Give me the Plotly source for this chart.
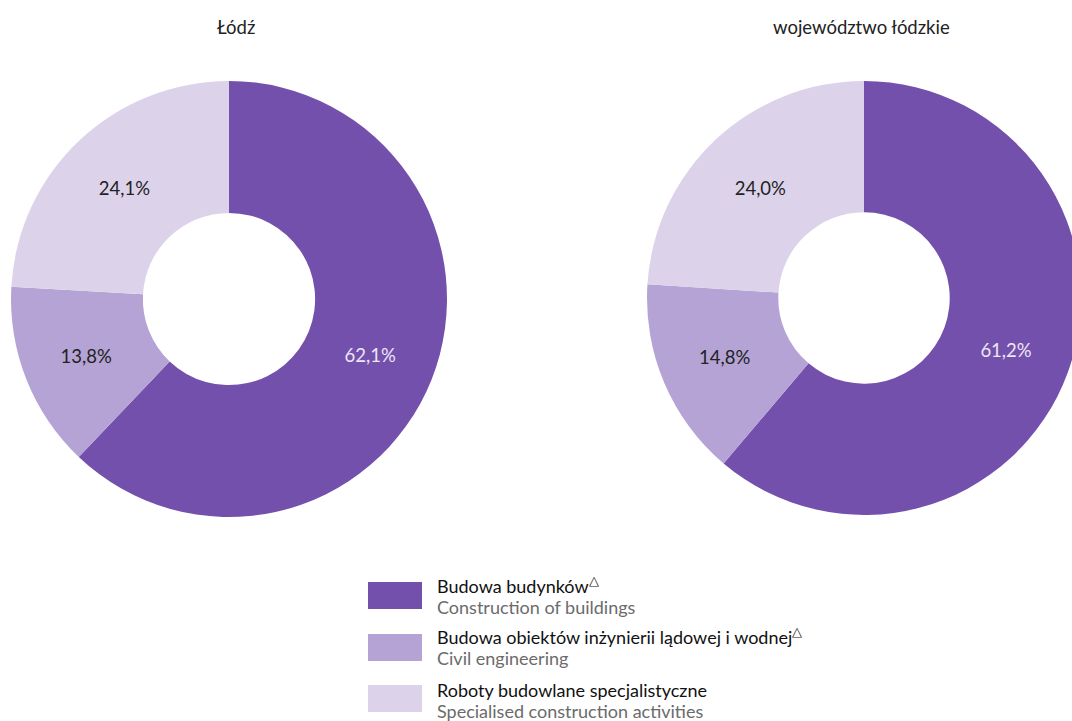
import plotly.graph_objects as go

W, H = 1084, 721

categories_pl = ["Budowa budynków", "Budowa obiektów inżynierii lądowej i wodnej", "Roboty budowlane specjalistyczne"]
categories_en = ["Construction of buildings", "Civil engineering", "Specialised construction activities"]
delta_mark = [True, True, False]
lodz_values = [62.1, 13.8, 24.1]
voiv_values = [61.2, 14.8, 24.0]
titles = ["Łódź", "województwo łódzkie"]

colors = ["#7450AD", "#B5A3D5", "#DCD3EB"]
text_colors = ["#EDE6F5", "#222222", "#222222"]
FONT = "Lato"


def px(x):
    return x / W


def py(y):
    return 1 - y / H


def fmt(v):
    return f"{v:.1f}".replace(".", ",") + "%"


fig = go.Figure()
domains = [
    dict(x=[px(11), px(447)], y=[py(517), py(81)]),
    dict(x=[px(647), px(1081)], y=[py(516), py(80)]),
]
for vals, dom, name in zip([lodz_values, voiv_values], domains, titles):
    fig.add_trace(go.Pie(
        labels=categories_pl,
        values=vals,
        text=[fmt(v) for v in vals],
        textinfo="text",
        textposition="inside",
        insidetextorientation="horizontal",
        insidetextfont=dict(family=FONT, size=18.5, color=text_colors),
        hole=0.395,
        sort=False,
        direction="clockwise",
        rotation=0,
        marker=dict(colors=colors, line=dict(width=0)),
        domain=dom,
        name=name,
        showlegend=False,
        hoverinfo="label+text",
    ))

annotations = []
for t, cx in zip(titles, [236, 861]):
    annotations.append(dict(x=px(cx), y=py(27), xref="paper", yref="paper", text=t,
                            showarrow=False, xanchor="center", yanchor="middle",
                            font=dict(family=FONT, size=18.5, color="#222222")))

shapes = []
box_tops = [582, 634, 685]
line1_y = [585, 636, 690]
line2_y = [607, 658, 711]
for i in range(3):
    shapes.append(dict(type="rect", xref="paper", yref="paper",
                       x0=px(368), x1=px(422), y0=py(box_tops[i] + 27), y1=py(box_tops[i]),
                       fillcolor=colors[i], line=dict(width=0)))
    t1 = categories_pl[i] + ("<sup>△</sup>" if delta_mark[i] else "")
    annotations.append(dict(x=px(435), y=py(line1_y[i]), xref="paper", yref="paper", text=t1,
                            showarrow=False, xanchor="left", yanchor="middle",
                            font=dict(family=FONT, size=18, color="#111111")))
    annotations.append(dict(x=px(435), y=py(line2_y[i]), xref="paper", yref="paper", text=categories_en[i],
                            showarrow=False, xanchor="left", yanchor="middle",
                            font=dict(family=FONT, size=18, color="#6b6b6b")))

fig.update_layout(
    width=W, height=H,
    margin=dict(l=0, r=0, t=0, b=0),
    paper_bgcolor="white", plot_bgcolor="white",
    annotations=annotations, shapes=shapes,
    font=dict(family=FONT),
)

fig.write_html("out.html", config={"displayModeBar": False},
               post_script="document.body.style.margin='0';document.body.style.overflow='hidden';"
                           "document.documentElement.style.overflow='hidden';")
